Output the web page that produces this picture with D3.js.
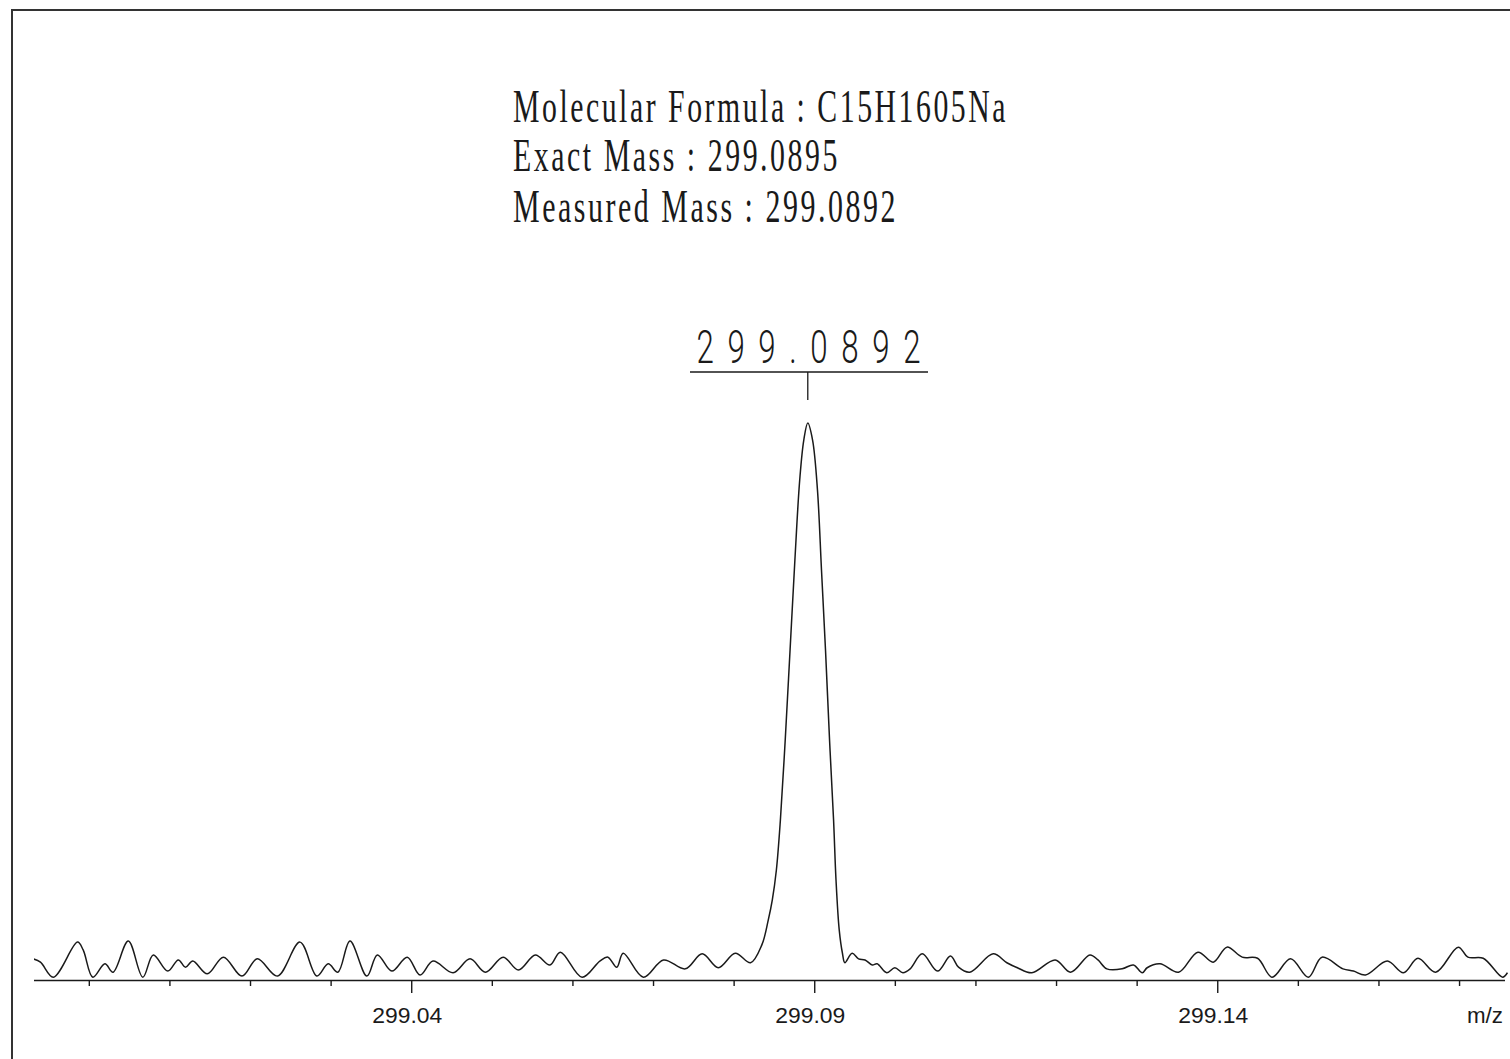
<!DOCTYPE html>
<html>
<head>
<meta charset="utf-8">
<script src="https://cdn.jsdelivr.net/npm/d3@7/dist/d3.min.js"></script>
<style>
	body { margin:0; background:#fff; }
	svg { display:block; }
</style>
</head>
<body>
<svg id="chart" width="1510" height="1059"></svg>
<script>
/* jshint undef: true, strict:false, trailing:false, unused:false */
/* global d3 */

var headerLines = ['Molecular Formula : C15H1605Na', 'Exact Mass : 299.0895', 'Measured Mass : 299.0892'];
var peakLabel = '299.0892', peakMz = 299.0892;
var tickValues = [299.00, 299.01, 299.02, 299.03, 299.04, 299.05, 299.06, 299.07, 299.08, 299.09,
	299.10, 299.11, 299.12, 299.13, 299.14, 299.15, 299.16, 299.17];
var labelledTicks = [299.04, 299.09, 299.14];
var axisName = 'm/z';

var mzValues = [
	298.9931, 298.9940, 298.9956, 298.9986, 298.9993, 299.0005, 299.0020, 299.0030, 299.0049, 299.0067,
	299.0080, 299.0098, 299.0111, 299.0120, 299.0129, 299.0147, 299.0167, 299.0190, 299.0209, 299.0234,
	299.0262, 299.0283, 299.0297, 299.0309, 299.0324, 299.0345, 299.0358, 299.0376, 299.0395, 299.0411,
	299.0427, 299.0452, 299.0473, 299.0492, 299.0514, 299.0533, 299.0554, 299.0572, 299.0585, 299.0612,
	299.0634, 299.0644, 299.0655, 299.0663, 299.0688, 299.0713, 299.0740, 299.0761, 299.0781, 299.0802,
	299.0821, 299.0835, 299.0843, 299.0848, 299.0853, 299.0858, 299.0864, 299.0870, 299.0876, 299.0882,
	299.0887, 299.0892, 299.0898, 299.0904, 299.0909, 299.0914, 299.0919, 299.0924, 299.0927, 299.0931,
	299.0935, 299.0938, 299.0947, 299.0955, 299.0963, 299.0972, 299.0978, 299.0990, 299.1000, 299.1010,
	299.1019, 299.1034, 299.1053, 299.1069, 299.1079, 299.1093, 299.1122, 299.1139, 299.1152, 299.1170,
	299.1199, 299.1218, 299.1242, 299.1252, 299.1263, 299.1282, 299.1296, 299.1307, 299.1313, 299.1329,
	299.1352, 299.1376, 299.1395, 299.1412, 299.1431, 299.1450, 299.1468, 299.1491, 299.1513, 299.1530,
	299.1556, 299.1569, 299.1584, 299.1611, 299.1631, 299.1649, 299.1671, 299.1699, 299.1711, 299.1730,
	299.1754, 299.1760
];
var intensityValues = [
	3.8, 3.2, 0.5, 6.8, 5.4, 0.5, 2.9, 1.4, 7.0, 0.5,
	4.5, 1.6, 3.6, 2.3, 3.4, 1.1, 4.1, 0.7, 3.8, 0.7,
	6.8, 0.7, 2.9, 1.4, 7.0, 0.7, 4.5, 1.6, 4.1, 0.9,
	3.4, 1.3, 3.8, 1.4, 4.1, 1.8, 4.5, 2.7, 5.0, 0.5,
	3.4, 4.1, 2.3, 4.8, 0.5, 3.6, 2.0, 4.7, 2.2, 4.8,
	3.1, 6.3, 10.8, 14.4, 19.7, 28.7, 43.1, 59.2, 75.4, 89.8,
	96.9, 100, 96.9, 88.0, 73.6, 59.2, 43.1, 28.7, 18.0, 9.0,
	4.8, 3.1, 4.8, 3.8, 3.6, 2.7, 2.9, 1.3, 2.2, 1.3,
	2.0, 4.7, 1.6, 4.3, 2.3, 1.4, 4.7, 3.1, 2.2, 1.3,
	3.6, 1.4, 4.5, 3.6, 2.0, 2.0, 2.7, 1.3, 2.2, 2.9,
	1.4, 5.0, 3.2, 5.9, 4.1, 3.9, 0.5, 3.8, 0.5, 4.1,
	2.0, 1.6, 0.9, 3.4, 1.3, 3.9, 1.4, 5.9, 4.1, 3.9,
	0.5, 1.3
];

var svg = d3.select('#chart');
var ink = '#1a1a1a';

var x = d3.scaleLinear().domain([298.9932, 299.1757]).range([34, 1505]);
var y = d3.scaleLinear().domain([0, 100]).range([980, 423]);

// page frame (left + top edges only, as in the print)
svg.append('path')
	.attr('d', 'M12,1059 L12,10 L1510,10')
	.attr('fill', 'none').attr('stroke', '#333').attr('stroke-width', 2);

// header block, tall condensed serif with open spacing
var header = svg.append('g').attr('font-family', '"Liberation Serif", "DejaVu Serif", serif')
	.attr('font-size', 47).attr('fill', ink).attr('letter-spacing', 4);
var headerWidths = [495, 327, 385];
var headerBase = [122, 171, 222];
headerLines.map(function(t, i) {
	header.append('text').attr('x', 513).attr('y', headerBase[i])
		.attr('textLength', headerWidths[i]).attr('lengthAdjust', 'spacingAndGlyphs')
		.text(t);
});

// axis
var axis = d3.axisBottom(x).tickValues(tickValues)
	.tickSize(6).tickFormat('');
var gx = svg.append('g').attr('transform', 'translate(0,980)').call(axis);
gx.select('.domain').attr('d', 'M34,0.5H1505').attr('stroke', ink).attr('stroke-width', 1.6);
gx.selectAll('.tick line')
	.attr('stroke', ink).attr('stroke-width', 1.4)
	.attr('y2', function(d) { return labelledTicks.indexOf(d) >= 0 ? 13 : 6; });

var labels = svg.append('g').attr('font-family', '"Liberation Sans", Arial, sans-serif')
	.attr('font-size', 22).attr('fill', ink);
labelledTicks.map(function(v) {
	labels.append('text').attr('x', x(v) - 4).attr('y', 1023)
		.attr('text-anchor', 'middle')
		.attr('textLength', 70).attr('lengthAdjust', 'spacingAndGlyphs')
		.text(d3.format('.2f')(v));
});
labels.append('text').attr('x', 1503).attr('y', 1023).attr('text-anchor', 'end')
	.attr('textLength', 36).attr('lengthAdjust', 'spacingAndGlyphs').text(axisName);

// spectrum trace
var pts = mzValues.map(function(m, i) { return [m, intensityValues[i]]; });
var line = d3.line()
	.x(function(d) { return x(d[0]); })
	.y(function(d) { return y(d[1]); })
	.curve(d3.curveCatmullRom.alpha(0.5));
svg.append('clipPath').attr('id', 'clip').append('rect')
	.attr('x', 34).attr('y', 0).attr('width', 1474).attr('height', 1059);
svg.append('path').datum(pts)
	.attr('clip-path', 'url(#clip)')
	.attr('d', line)
	.attr('fill', 'none').attr('stroke', ink).attr('stroke-width', 1.5)
	.attr('stroke-linejoin', 'round');

// peak annotation : thin, narrow, widely spaced digits
var px = x(peakMz);
var sx = 0.68;
svg.append('g').attr('transform', 'translate(' + 808.5 + ',363) scale(' + sx + ',1)')
	.append('text')
	.attr('x', 0).attr('y', 0)
	.attr('text-anchor', 'middle')
	.attr('font-family', 'Roboto, "Liberation Sans", sans-serif')
	.attr('font-weight', 300)
	.attr('font-size', 46).attr('fill', ink)
	.attr('textLength', 224 / sx).attr('lengthAdjust', 'spacing')
	.text(peakLabel);
svg.append('line').attr('x1', 690).attr('x2', 928).attr('y1', 372).attr('y2', 372)
	.attr('stroke', ink).attr('stroke-width', 1.5);
svg.append('line').attr('x1', px).attr('x2', px).attr('y1', 372).attr('y2', 400)
	.attr('stroke', ink).attr('stroke-width', 1.3);
</script>
</body>
</html>
